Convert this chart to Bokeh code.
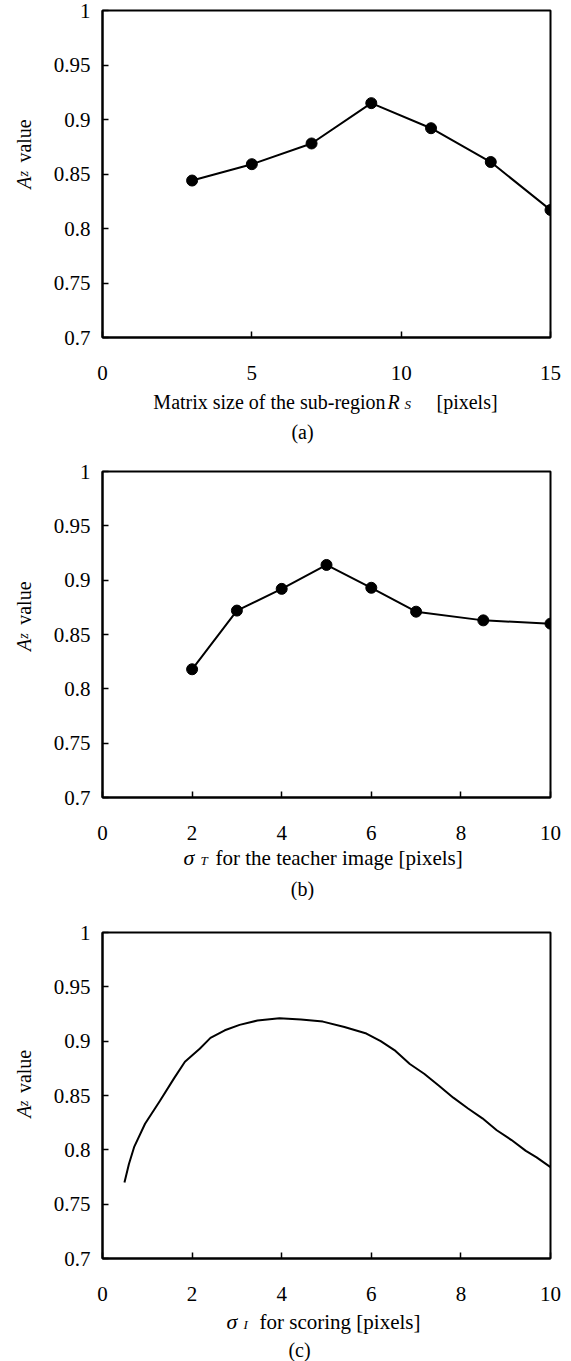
import math
from bokeh.plotting import figure
from bokeh.layouts import column, row
from bokeh.models import Range1d, FixedTicker, CustomJSTickFormatter
from bokeh.core.properties import value
from bokeh.embed import file_html
from bokeh.resources import INLINE

FONT = "Liberation Serif"

# ---- data ----
a_x = [3, 5, 7, 9, 11, 13, 15]
a_y = [0.844, 0.859, 0.878, 0.915, 0.892, 0.861, 0.817]

b_x = [2, 3, 4, 5, 6, 7, 8.5, 10]
b_y = [0.818, 0.872, 0.892, 0.914, 0.893, 0.871, 0.863, 0.860]

c_x = [0.49, 0.59, 0.71, 0.95, 1.28, 1.60, 1.84, 2.17, 2.41, 2.73, 3.06, 3.46,
       3.95, 4.43, 4.92, 5.40, 5.89, 6.21, 6.54, 6.86, 7.18, 7.51, 7.83, 8.16,
       8.48, 8.80, 9.13, 9.45, 9.69, 10.0]
c_y = [0.770, 0.787, 0.803, 0.824, 0.845, 0.866, 0.881, 0.893, 0.903, 0.910,
       0.915, 0.919, 0.921, 0.920, 0.918, 0.913, 0.907, 0.900, 0.891, 0.879,
       0.870, 0.859, 0.848, 0.838, 0.829, 0.818, 0.809, 0.799, 0.793, 0.784]

y_ticks = [0.7, 0.75, 0.8, 0.85, 0.9, 0.95, 1.0]
a_xticks = [0, 5, 10, 15]
b_xticks = [0, 2, 4, 6, 8, 10]
c_xticks = [0, 2, 4, 6, 8, 10]

W = 571
YT_W = 50            # width of the strip holding the y title
FRAME_LEFT = 100     # page x of plot frame's left edge
FRAME_RIGHT = 550
BASE_FIX = 7         # measured offset of the alphabetic baseline


def make_panel(page_top, page_bottom, frame_top, frame_bottom, xmax, xticks):
    h = page_bottom - page_top
    p = figure(width=W - YT_W, height=h, x_range=Range1d(0, xmax), y_range=Range1d(0.7, 1.0),
               output_backend="svg", toolbar_location=None,
               min_border_left=FRAME_LEFT - YT_W, min_border_right=W - FRAME_RIGHT,
               min_border_top=frame_top - page_top, min_border_bottom=page_bottom - frame_bottom)
    p.grid.visible = False
    p.outline_line_color = "black"
    p.outline_line_width = 2
    p.outline_line_alpha = 1
    p.background_fill_color = "white"
    p.border_fill_color = "white"
    for ax in (p.xaxis[0], p.yaxis[0]):
        ax.axis_line_width = 2
        ax.axis_line_color = "black"
        ax.major_tick_in = 6
        ax.major_tick_out = 0
        ax.minor_tick_in = 0
        ax.minor_tick_out = 0
        ax.major_tick_line_width = 1.5
        ax.major_tick_line_color = "black"
        ax.major_label_text_font = FONT
        ax.major_label_text_font_size = "21px"
        ax.major_label_text_color = "black"
    p.xaxis.ticker = FixedTicker(ticks=xticks)
    p.yaxis.ticker = FixedTicker(ticks=y_ticks)
    p.yaxis.formatter = CustomJSTickFormatter(code="return String(Math.round(tick*100)/100);")
    p.xaxis.major_label_standoff = 28
    p.yaxis.major_label_standoff = 12
    return p


def text_fig(w, page_top, page_bottom):
    h = page_bottom - page_top
    f = figure(width=w, height=h, x_range=Range1d(0, w), y_range=Range1d(0, h),
               output_backend="svg", toolbar_location=None,
               x_axis_type=None, y_axis_type=None, min_border=0)
    f.outline_line_color = None
    f.grid.visible = False
    f.background_fill_color = "white"
    f.border_fill_color = "white"
    f._page_top = page_top
    f._h = h
    return f


def put(f, x, page_y, txt, size=20, style="normal", align="left", angle=0.0):
    if angle == 0.0:
        yy = f._h - (page_y - f._page_top) + BASE_FIX
        xx = x
    else:
        yy = f._h - (page_y - f._page_top)
        xx = x - BASE_FIX
    f.text(x=[xx], y=[yy], text=[txt],
           text_font=value(FONT), text_font_size=f"{size}px", text_font_style=style,
           text_align=align, text_baseline="alphabetic", angle=angle, text_color="black")


def y_title_fig(page_top, page_bottom, frame_top, frame_bottom):
    f = text_fig(YT_W, page_top, page_bottom)
    mid = (frame_top + frame_bottom) / 2
    put(f, 30, mid + 38, "A", 20, "italic", angle=math.pi / 2)
    put(f, 30, mid + 23.5, "z", 14, "italic", angle=math.pi / 2)
    put(f, 30, mid + 7, "value", 20, "normal", angle=math.pi / 2)
    return f


# ---- panel (a) : page 0..460 ----
pa = make_panel(0, 388, 10, 337, 15, a_xticks)
pa.line(a_x, a_y, line_color="black", line_width=2)
pa.scatter(a_x, a_y, size=11, fill_color="black", line_color="black")
ya = y_title_fig(0, 388, 10, 337)
xa = text_fig(W, 388, 460)
put(xa, 385, 408, "Matrix size of the sub-region", align="right")
put(xa, 387, 408, "R", style="italic")
put(xa, 404, 411, "S", size=13, style="italic")
put(xa, 436, 408, "[pixels]")
put(xa, 302, 438, "(a)", align="center")

# ---- panel (b) : page 460..900 ----
pb = make_panel(460, 845, 471, 797, 10, b_xticks)
pb.line(b_x, b_y, line_color="black", line_width=2)
pb.scatter(b_x, b_y, size=11, fill_color="black", line_color="black")
yb = y_title_fig(460, 845, 471, 797)
xb = text_fig(W, 845, 900)
put(xb, 183, 864, "\u03c3", size=22, style="italic")
put(xb, 200, 867, "T", size=13, style="italic")
put(xb, 215, 864, "for the teacher image [pixels]", size=21)
put(xb, 302, 895, "(b)", align="center")

# ---- panel (c) : page 900..1361 ----
pc = make_panel(900, 1310, 932, 1258, 10, c_xticks)
pc.line(c_x, c_y, line_color="black", line_width=2)
yc = y_title_fig(900, 1310, 932, 1258)
xc = text_fig(W, 1310, 1361)
put(xc, 226, 1328, "\u03c3", size=22, style="italic")
put(xc, 243, 1331, "I", size=13, style="italic")
put(xc, 259, 1328, "for scoring [pixels]", size=21)
put(xc, 299, 1356, "(c)", align="center")

layout = column(row(ya, pa, spacing=0), xa,
                row(yb, pb, spacing=0), xb,
                row(yc, pc, spacing=0), xc, spacing=0)
open("out.html", "w").write(file_html(layout, INLINE))
